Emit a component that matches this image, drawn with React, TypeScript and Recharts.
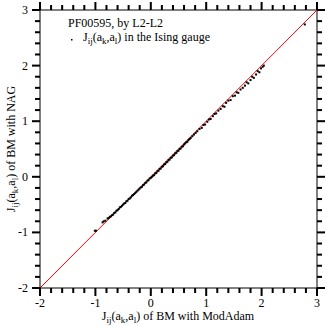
import { ScatterChart, Scatter, XAxis, YAxis, ReferenceLine, Label } from 'recharts'

// J_ij values: x from BM with ModAdam, y from BM with NAG
const modAdam = [
  -1.01, -0.99, -0.87, -0.85, -0.82, -0.78, -0.76, -0.74,
  -0.72, -0.7, -0.68, -0.66, -0.64, -0.62, -0.6, -0.58, -0.56, -0.54, -0.52, -0.5,
  -0.48, -0.46, -0.44, -0.42, -0.4, -0.38, -0.36, -0.34, -0.32, -0.3, -0.28, -0.26,
  -0.24, -0.22, -0.2, -0.18, -0.16, -0.14, -0.12, -0.1, -0.08, -0.06, -0.04, -0.02,
  0, 0.02, 0.04, 0.06, 0.08, 0.1, 0.12, 0.14, 0.16, 0.18, 0.2, 0.22, 0.24, 0.26,
  0.28, 0.3, 0.32, 0.34, 0.36, 0.38, 0.4, 0.42, 0.44, 0.46, 0.48, 0.5, 0.52, 0.54,
  0.56, 0.58, 0.6, 0.62, 0.64, 0.66, 0.68, 0.7, 0.72, 0.75, 0.78, 0.81, 0.84,
  0.88, 0.92, 0.95, 0.98, 1.02, 1.05, 1.08, 1.12, 1.15, 1.18, 1.22, 1.26, 1.3, 1.33,
  1.36, 1.4, 1.44, 1.48, 1.52, 1.55, 1.58, 1.62, 1.66, 1.7, 1.73, 1.76, 1.8, 1.83,
  1.86, 1.9, 1.93, 1.96, 1.99, 2.02, 2.04, 2.78,
]
const nag = [
  -0.97, -0.97, -0.82, -0.8, -0.79, -0.75, -0.74, -0.72,
  -0.71, -0.69, -0.68, -0.65, -0.64, -0.61, -0.6, -0.58, -0.55, -0.54, -0.52, -0.5,
  -0.48, -0.47, -0.44, -0.43, -0.4, -0.39, -0.37, -0.34, -0.33, -0.31, -0.29, -0.27,
  -0.25, -0.23, -0.21, -0.19, -0.18, -0.15, -0.14, -0.11, -0.1, -0.07, -0.06, -0.03,
  -0.02, 0, 0.02, 0.03, 0.06, 0.07, 0.1, 0.11, 0.14, 0.15, 0.18, 0.19, 0.22, 0.23,
  0.26, 0.27, 0.3, 0.31, 0.34, 0.35, 0.38, 0.39, 0.42, 0.43, 0.46, 0.47, 0.5, 0.51,
  0.54, 0.55, 0.58, 0.6, 0.62, 0.63, 0.66, 0.68, 0.7, 0.73, 0.76, 0.79, 0.82,
  0.86, 0.88, 0.93, 0.94, 0.99, 1.03, 1.04, 1.09, 1.13, 1.14, 1.19, 1.22, 1.27, 1.26,
  1.33, 1.37, 1.38, 1.45, 1.46, 1.52, 1.51, 1.57, 1.6, 1.64, 1.7, 1.68, 1.74, 1.8,
  1.78, 1.84, 1.9, 1.88, 1.95, 1.98, 2.0, 2.74,
]

const diagonal = [-2, 3]
const tickValues = [
  -2, -1.8, -1.6, -1.4, -1.2, -1, -0.8, -0.6, -0.4, -0.2, 0, 0.2, 0.4,
  0.6, 0.8, 1, 1.2, 1.4, 1.6, 1.8, 2, 2.2, 2.4, 2.6, 2.8, 3,
]
const majorTicks = [-2, -1, 0, 1, 2, 3]

const points = modAdam.map((x, i) => ({ x, y: nag[i] }))

// tick marks on the frame, placed through the same scales as the data
const bottomMarks = tickValues.map((v) => ({ x: v, y: -2, v }))
const topMarks = tickValues.map((v) => ({ x: v, y: 3, v }))
const leftMarks = tickValues.map((v) => ({ x: -2, y: v, v }))
const rightMarks = tickValues.map((v) => ({ x: 3, y: v, v }))

const font = 'Liberation Serif, Times New Roman, serif'
const isMajor = (v: number) => majorTicks.some((m) => Math.abs(m - v) < 1e-6)

const makeMark = (side: string) => (props: any) => {
  const { cx, cy } = props
  const len = isMajor(props.payload.v) ? 8 : 5
  if (side === 'bottom') return <rect x={cx - 1} y={cy} width={2} height={len} fill="#000" />
  if (side === 'top') return <rect x={cx - 1} y={cy - len} width={2} height={len} fill="#000" />
  if (side === 'left') return <rect x={cx - len} y={cy - 1} width={len} height={2} fill="#000" />
  return <rect x={cx} y={cy - 1} width={len} height={2} fill="#000" />
}

function TickLabel({ x, y, payload, side }: any) {
  if (!isMajor(payload.value)) return <g />
  const label = String(payload.value)
  if (side === 'bottom') {
    return (
      <text x={x} y={y + 19} textAnchor="middle" fontSize={12} fontFamily={font} fill="#000">
        {label}
      </text>
    )
  }
  return (
    <text x={x - 12} y={y + 4} textAnchor="end" fontSize={12} fontFamily={font} fill="#000">
      {label}
    </text>
  )
}

function JLabel({ suffix }: { suffix: string }) {
  return (
    <>
      <tspan>J</tspan>
      <tspan dy={3} fontSize={9}>ij</tspan>
      <tspan dy={-3}>(a</tspan>
      <tspan dy={3} fontSize={9}>k</tspan>
      <tspan dy={-3}>,a</tspan>
      <tspan dy={3} fontSize={9}>l</tspan>
      <tspan dy={-3}>){suffix}</tspan>
    </>
  )
}

const Dot = (props: any) => (
  <rect x={props.cx - 1} y={props.cy - 1} width={2} height={2} fill="#000" />
)

export default function App() {
  return (
    <div style={{ position: 'absolute', left: 0, top: 0, background: '#fff' }}>
      <ScatterChart width={327} height={326} margin={{ top: 10, right: 10, bottom: 0, left: 0 }}>
        <XAxis
          xAxisId="bottom"
          dataKey="x"
          type="number"
          domain={[-2, 3]}
          ticks={majorTicks}
          interval={0}
          height={38}
          tickSize={0}
          tickMargin={0}
          tickLine={false}
          axisLine={{ stroke: '#000' }}
          tick={(p: any) => <TickLabel {...p} side="bottom" />}
        >
          <Label
            content={() => (
              <g fontFamily={font} fontSize={12} fill="#000">
                <text x={178} y={320} textAnchor="middle">
                  <JLabel suffix=" of BM with ModAdam" />
                </text>
                <text x={68} y={27}>PF00595, by L2-L2</text>
                <rect x={71} y={39} width={1.5} height={1.5} fill="#000" />
                <text x={83} y={41}>
                  <JLabel suffix=" in the Ising gauge" />
                </text>
              </g>
            )}
          />
        </XAxis>
        <YAxis
          yAxisId="left"
          dataKey="y"
          type="number"
          domain={[-2, 3]}
          ticks={majorTicks}
          interval={0}
          width={40}
          tickSize={0}
          tickMargin={0}
          tickLine={false}
          axisLine={{ stroke: '#000' }}
          tick={(p: any) => <TickLabel {...p} side="left" />}
        >
          <Label
            content={() => (
              <text
                x={15}
                y={149}
                textAnchor="middle"
                fontSize={12}
                fontFamily={font}
                fill="#000"
                transform="rotate(-90, 15, 149)"
              >
                <JLabel suffix=" of BM with NAG" />
              </text>
            )}
          />
        </YAxis>
        <ReferenceLine xAxisId="bottom" yAxisId="left" y={diagonal[1]} stroke="#000" />
        <ReferenceLine xAxisId="bottom" yAxisId="left" x={diagonal[1]} stroke="#000" />
        <Scatter xAxisId="bottom" yAxisId="left" data={bottomMarks} shape={makeMark('bottom')} isAnimationActive={false} />
        <Scatter xAxisId="bottom" yAxisId="left" data={topMarks} shape={makeMark('top')} isAnimationActive={false} />
        <Scatter xAxisId="bottom" yAxisId="left" data={leftMarks} shape={makeMark('left')} isAnimationActive={false} />
        <Scatter xAxisId="bottom" yAxisId="left" data={rightMarks} shape={makeMark('right')} isAnimationActive={false} />
        <Scatter
          xAxisId="bottom"
          yAxisId="left"
          data={points}
          shape={Dot}
          isAnimationActive={false}
        />
        <ReferenceLine
          xAxisId="bottom"
          yAxisId="left"
          segment={[
            { x: diagonal[0], y: diagonal[0] },
            { x: diagonal[1], y: diagonal[1] },
          ]}
          stroke="#ff0000"
          strokeWidth={1}
        />
      </ScatterChart>
    </div>
  )
}
